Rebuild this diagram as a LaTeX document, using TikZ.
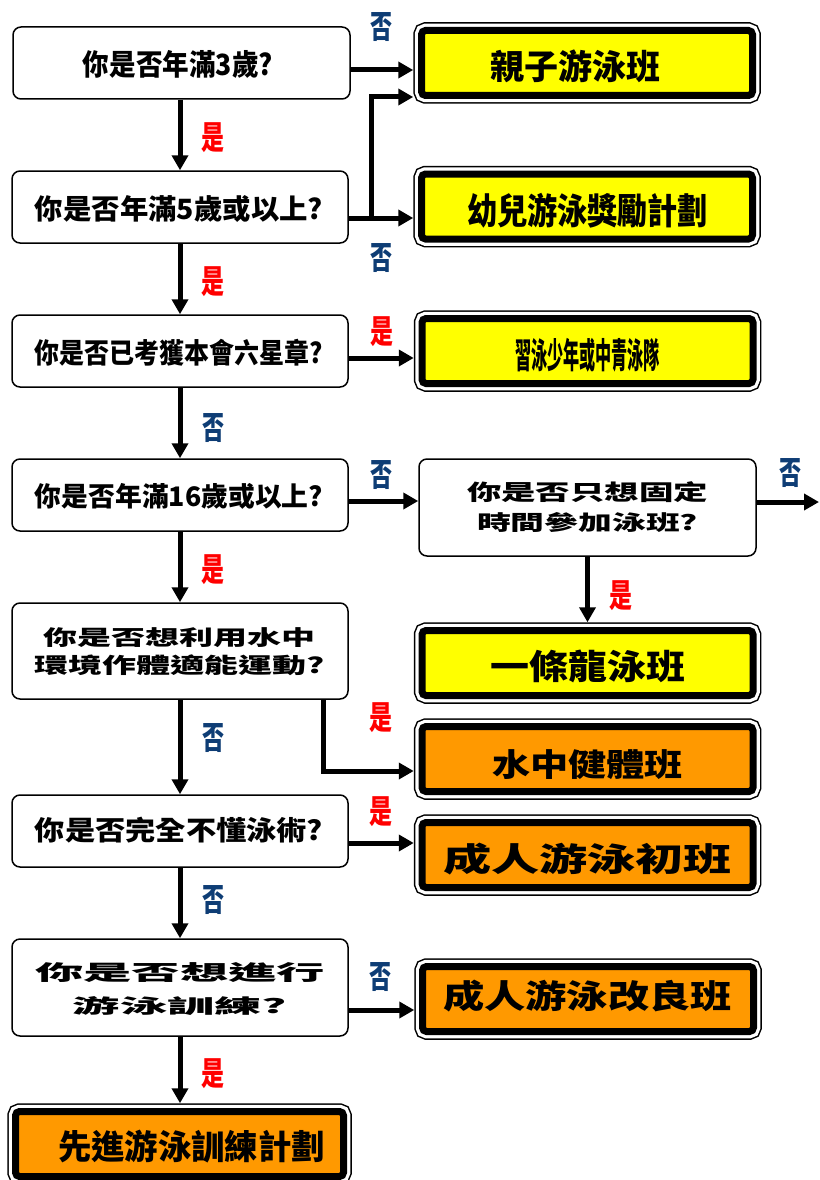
\documentclass[tikz,border=0pt]{standalone}
\usepackage{fontspec}
\setmainfont{Noto Sans CJK TC}
\usetikzlibrary{arrows.meta}
\definecolor{navy}{HTML}{0E3D75}
\definecolor{yel}{HTML}{FFFF00}
\definecolor{org}{HTML}{FF9900}
\newcommand{\fitto}[3]{\resizebox*{#1pt}{#2pt}{#3}}
\tikzset{
  qbox/.style={draw, line width=1.5pt, rounded corners=8pt, fill=white, inner sep=0pt},
  rbox/.style={fill=#1, draw=black, line width=7pt, rounded corners=4pt, inner sep=0pt,
    outer sep=8.25pt, minimum width=331pt, minimum height=65pt,
    preaction={draw=black, line width=16.5pt},
    preaction={draw=white, line width=13.5pt}},
  txt/.style={inner sep=0pt, text=black},
  yesl/.style={inner sep=0pt, text=red},
  nol/.style={inner sep=0pt, text=navy},
  arr/.style={line width=5pt, -{Triangle[length=15pt,width=16pt]}},
}
\begin{document}
\begin{tikzpicture}[x=1pt,y=-1pt]
\useasboundingbox (0,0) rectangle (819,1180);
% question boxes
\node[qbox, minimum width=337pt, minimum height=72pt] (Q1) at (181.5,63) {};
\node[qbox, minimum width=336pt, minimum height=72pt] (Q2) at (180,207) {};
\node[qbox, minimum width=336pt, minimum height=72pt] (Q3) at (180,351) {};
\node[qbox, minimum width=336pt, minimum height=72pt] (Q4) at (180,495) {};
\node[qbox, minimum width=336pt, minimum height=96pt] (Q5) at (180,651) {};
\node[qbox, minimum width=336pt, minimum height=72pt] (Q6) at (180,831) {};
\node[qbox, minimum width=336pt, minimum height=97pt] (Q7) at (180,987.5) {};
\node[qbox, minimum width=337pt, minimum height=97pt] (Q8) at (587.5,507.5) {};
% result boxes
\node[rbox=yel] (R1) at (587,63) {};
\node[rbox=yel] (R2) at (587,206.5) {};
\node[rbox=yel] (R3) at (587.5,351) {};
\node[rbox=yel] (R4) at (587.5,663) {};
\node[rbox=org] (R5) at (587.5,759) {};
\node[rbox=org] (R6) at (587.5,855) {};
\node[rbox=org] (R7) at (588,999) {};
\node[rbox=org, minimum width=328pt] (R8) at (179.5,1144) {};
% question texts
\node[txt] (tq1) at (178,64) {\fitto{190}{28}{\bfseries 你是否年滿3歲?}};
\node[txt] (tq2) at (179,208.5) {\fitto{288}{27}{\bfseries 你是否年滿5歲或以上?}};
\node[txt] (tq3) at (179,352.5) {\fitto{288}{27}{\bfseries 你是否已考獲本會六星章?}};
\node[txt] (tq4) at (179,496.5) {\fitto{288}{26}{\bfseries 你是否年滿16歲或以上?}};
\node[txt] (tq5a) at (179,638) {\fitto{272}{20}{\bfseries 你是否想利用水中}};
\node[txt] (tq5b) at (180,665.5) {\fitto{290}{21}{\bfseries 環境作體適能運動?}};
\node[txt] (tq6) at (179,830) {\fitto{288}{26}{\bfseries 你是否完全不懂泳術?}};
\node[txt] (tq7a) at (180,973) {\fitto{290}{20}{\bfseries 你是否想進行}};
\node[txt] (tq7b) at (180,1006.5) {\fitto{214}{19}{\bfseries 游泳訓練?}};
\node[txt] (tq8a) at (587.5,492.5) {\fitto{241}{21}{\bfseries 你是否只想固定}};
\node[txt] (tq8b) at (587.5,522) {\fitto{221}{20}{\bfseries 時間參加泳班?}};
% result texts
\node[txt] (tr1) at (575,66.5) {\fitto{170}{33}{\bfseries 親子游泳班}};
\node[txt] (tr2) at (587.5,210.5) {\fitto{241}{35}{\bfseries 幼兒游泳獎勵計劃}};
\node[txt] (tr3) at (587.5,355) {\fitto{145}{34}{\bfseries 習泳少年或中青泳隊}};
\node[txt] (tr4) at (587.5,666.5) {\fitto{195}{33}{\bfseries 一條龍泳班}};
\node[txt] (tr5) at (587.5,765) {\fitto{191}{30}{\bfseries 水中健體班}};
\node[txt] (tr6) at (587.5,859) {\fitto{289}{32}{\bfseries 成人游泳初班}};
\node[txt] (tr7) at (587.5,996) {\fitto{289}{32}{\bfseries 成人游泳改良班}};
\node[txt] (tr8) at (191.5,1146.5) {\fitto{267}{33}{\bfseries 先進游泳訓練計劃}};
% connectors
\coordinate (br) at (371,218);
\coordinate (exit) at (819,502);
\draw[arr] ([yshift=-7pt]Q1.east) -- ([yshift=-7pt]Q1.east -| R1.west);
\draw[arr] ([yshift=-11pt]Q2.east) -- ([yshift=-11pt]Q2.east -| R2.west);
\draw[arr] (br) |- ([yshift=-34pt]R1.west);
\draw[arr] ([yshift=-7pt]Q3.east) -- ([yshift=-7pt]Q3.east -| R3.west);
\draw[arr] ([yshift=-6pt]Q4.east) -- ([yshift=-6pt]Q4.east -| Q8.west);
\draw[arr] ([yshift=5.5pt]Q8.east) -- (exit);
\draw[arr] (Q8.south) -- (Q8.south |- R4.north);
\draw[arr] ([xshift=143pt]Q5.south) |- ([yshift=-12pt]R5.west);
\draw[arr] ([yshift=-12pt]Q6.east) -- ([yshift=-12pt]Q6.east -| R6.west);
\draw[arr] ([yshift=-22.5pt]Q7.east) -- ([yshift=-22.5pt]Q7.east -| R7.west);
\draw[arr] (Q1.south -| Q2.north) -- (Q2.north);
\draw[arr] (Q2.south) -- (Q3.north);
\draw[arr] (Q3.south) -- (Q4.north);
\draw[arr] (Q4.south) -- (Q5.north);
\draw[arr] (Q5.south) -- (Q6.north);
\draw[arr] (Q6.south) -- (Q7.north);
\draw[arr] (Q7.south) -- (Q7.south |- R8.north);
% branch labels
\node[nol] (l1) at (381,27) {\fitto{22}{29}{\bfseries 否}};
\node[yesl] (l2) at (213,138) {\fitto{23}{30}{\bfseries 是}};
\node[nol] (l3) at (381,258) {\fitto{22}{29}{\bfseries 否}};
\node[yesl] (l4) at (213,282) {\fitto{23}{30}{\bfseries 是}};
\node[yesl] (l5) at (381.5,331.5) {\fitto{23}{30}{\bfseries 是}};
\node[nol] (l6) at (213,428) {\fitto{22}{29}{\bfseries 否}};
\node[nol] (l7) at (381,475) {\fitto{22}{29}{\bfseries 否}};
\node[nol] (l8) at (790,473.5) {\fitto{22}{29}{\bfseries 否}};
\node[yesl] (l9) at (213,570) {\fitto{23}{30}{\bfseries 是}};
\node[yesl] (l10) at (621,596) {\fitto{23}{30}{\bfseries 是}};
\node[yesl] (l11) at (381,718) {\fitto{23}{30}{\bfseries 是}};
\node[nol] (l12) at (213,738) {\fitto{22}{29}{\bfseries 否}};
\node[yesl] (l13) at (381,812) {\fitto{23}{30}{\bfseries 是}};
\node[nol] (l14) at (213,900) {\fitto{22}{29}{\bfseries 否}};
\node[nol] (l15) at (380,977) {\fitto{22}{29}{\bfseries 否}};
\node[yesl] (l16) at (213,1074) {\fitto{23}{30}{\bfseries 是}};
\end{tikzpicture}
\end{document}
